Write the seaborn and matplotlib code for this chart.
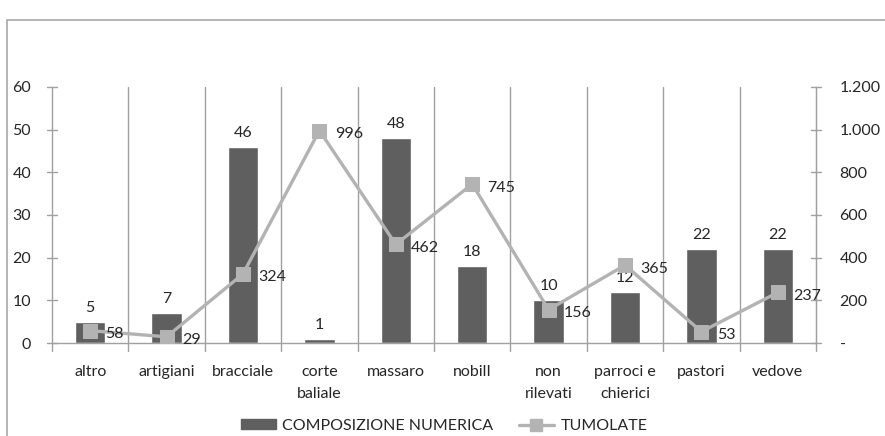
import matplotlib
matplotlib.use("Agg")
import matplotlib.pyplot as plt
import seaborn as sns
import numpy as np
from matplotlib.lines import Line2D
from matplotlib.patches import Patch, Rectangle
from matplotlib.ticker import FuncFormatter

categories = ["altro", "artigiani", "bracciale", "corte\nbaliale", "massaro", "nobilI",
              "non\nrilevati", "parroci e\nchierici", "pastori", "vedove"]
composizione = [5, 7, 46, 1, 48, 18, 10, 12, 22, 22]
tumolate = [58, 29, 324, 996, 462, 745, 156, 365, 53, 237]
left_ticks = [0, 10, 20, 30, 40, 50, 60]
right_ticks = [0, 200, 400, 600, 800, 1000, 1200]

sns.set_style("white")
plt.rcParams['font.family'] = ['Lato', 'DejaVu Sans']

BAR = "#5f5f5f"
LINE = "#b3b3b3"
AX = "#a0a0a0"
FS = 11.5

fig = plt.figure(figsize=(8.85, 4.36), dpi=100)
ax = fig.add_axes([52/885, 1-343/436, (816-52)/885, (343-87)/436])

sns.barplot(x=list(range(len(categories))), y=composizione, ax=ax, color=BAR,
            width=0.4, saturation=1, native_scale=False)
ax.set_xlim(-0.5, len(categories)-0.5)
ax.set_ylim(0, 60)
ax.set_yticks(left_ticks)
ax.set_xticks(range(len(categories)))
ax.set_xticklabels(categories, fontsize=FS, linespacing=1.75)
ax.tick_params(axis='y', labelsize=FS, length=0, pad=15)
ax.tick_params(axis='x', length=0, pad=16)
for b, v in zip(ax.patches, composizione):
    ax.annotate(str(v), (b.get_x()+b.get_width()/2, b.get_height()), xytext=(0, 5),
                textcoords='offset points', ha='center', va='bottom', fontsize=FS)

for xb in np.arange(0.5, len(categories)-0.5, 1):
    ax.axvline(xb, color=AX, lw=1, zorder=0)
for xb in np.arange(-0.5, len(categories)+0.5, 1):
    ax.plot([xb, xb], [0, -1.8], color=AX, lw=1, clip_on=False)
for t in left_ticks:
    ax.plot([-0.57, -0.43], [t, t], color=AX, lw=1, clip_on=False)

ax.spines['top'].set_visible(False)
for s in ['left', 'bottom', 'right']:
    ax.spines[s].set_color(AX)
    ax.spines[s].set_linewidth(1)

ax2 = ax.twinx()
sns.lineplot(x=list(range(len(categories))), y=tumolate, ax=ax2, color=LINE, lw=2.4,
             marker='s', markersize=10.5, markeredgecolor=LINE, markerfacecolor=LINE)
ax2.set_ylim(0, 1200)
ax2.set_yticks(right_ticks)
ax2.yaxis.set_major_formatter(FuncFormatter(lambda v, p: "-" if v == 0 else f"{int(v):,}".replace(",", ".")))
ax2.tick_params(axis='y', labelsize=FS, length=0, pad=17)
for s in ['top', 'left', 'bottom']:
    ax2.spines[s].set_visible(False)
ax2.spines['right'].set_color(AX)
for t in right_ticks:
    ax2.plot([9.43, 9.57], [t, t], color=AX, lw=1, clip_on=False)
ax2.set_xlim(-0.5, len(categories)-0.5)
for i, v in enumerate(tumolate):
    ax2.annotate(str(v), (i, v), xytext=(11, -2.5), textcoords='offset points',
                 ha='left', va='center', fontsize=FS)

handles = [Patch(facecolor=BAR, edgecolor=BAR),
           Line2D([0], [0], color=LINE, lw=2.4, marker='s', markersize=8)]
fig.legend(handles, ["COMPOSIZIONE NUMERICA", "TUMOLATE"], loc='center',
           bbox_to_anchor=(444/885, 1-426/436), ncol=2, frameon=False, fontsize=FS,
           handlelength=2.2, handletextpad=0.4, columnspacing=1.6, handleheight=0.6)

fig.patches.append(Rectangle((7/885, -0.1), 1.2, 1.1-20/436, transform=fig.transFigure,
                             fill=False, edgecolor="#a8a8a8", lw=1.2))

fig.savefig("out.png", dpi=100)
